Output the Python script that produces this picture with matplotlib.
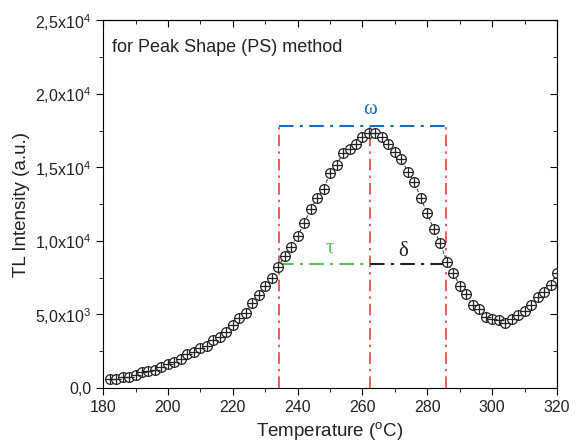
import matplotlib.pyplot as plt
from matplotlib.ticker import MultipleLocator

plt.rcParams['font.family'] = ['Liberation Sans', 'DejaVu Sans']
plt.rcParams['mathtext.fontset'] = 'custom'
plt.rcParams['mathtext.rm'] = 'Liberation Sans'

# Datos de la curva TL
temperature = list(range(182, 322, 2))
intensity = [610, 640, 725, 770, 883, 1064, 1177, 1223, 1449, 1608,
             1789, 1947, 2287, 2468, 2740, 2876, 3261, 3442, 3827, 4280,
             4733, 5120, 5750, 6300, 6900, 7450, 8240, 8970, 9560, 10350,
             11190, 12140, 12890, 13520, 14630, 15150, 15960, 16210, 16580, 17030,
             17350, 17300, 17070, 16580, 16050, 15530, 14700, 14020, 12890, 11870,
             10780, 9830, 8580, 7830, 6950, 6360, 5620, 5340, 4840, 4660,
             4620, 4440, 4660, 4930, 5230, 5620, 6160, 6520, 7020, 7790]

# Parametros del metodo PS
T1, Tm, T2 = 234.4, 262.2, 285.7
I_max = 17800
I_half = 8450

yticks = [0, 5000, 10000, 15000, 20000, 25000]
ytick_labels = ['0,0', r'5,0x10$^3$', r'1,0x10$^4$', r'1,5x10$^4$',
                r'2,0x10$^4$', r'2,5x10$^4$']

fig = plt.figure(figsize=(5.76, 4.48), dpi=100)
ax = fig.add_axes([0.179, 0.134, 0.788, 0.821])

red = '#e8403c'
blue = '#1a6cc0'
green = '#5bbf5b'
dashdot = (0, (7, 3, 1.5, 3))

# lineas del metodo
for t in (T1, Tm, T2):
    ax.plot([t, t], [0, I_max], color=red, linestyle=dashdot, linewidth=1.2, zorder=1)
ax.plot([T1, T2], [I_max, I_max], color=blue, linestyle=dashdot, linewidth=1.5, zorder=1)
ax.plot([T1, Tm], [I_half, I_half], color=green, linestyle=dashdot, linewidth=1.5, zorder=1)
ax.plot([Tm, T2], [I_half, I_half], color='#222222', linestyle=dashdot, linewidth=1.5, zorder=1)

# curva
ax.plot(temperature, intensity, color='#333333', linestyle='--', linewidth=0.7, zorder=2)
ax.plot(temperature, intensity, linestyle='none', marker='o', markersize=7,
        markerfacecolor='white', markeredgecolor='#222222', markeredgewidth=0.9, zorder=3)
ax.plot(temperature, intensity, linestyle='none', marker='+', markersize=7,
        markeredgecolor='#222222', markeredgewidth=0.9, zorder=4)

greek = ['Liberation Serif', 'DejaVu Serif']
ax.text(Tm, 18300, 'ω', color=blue, fontsize=15, ha='center', va='bottom', family=greek)
ax.text(250, 8800, 'τ', color=green, fontsize=15, ha='center', va='bottom', family=greek)
ax.text(272.5, 8650, 'δ', color='#222222', fontsize=15, ha='center', va='bottom', family=greek)
ax.text(0.02, 0.925, 'for Peak Shape (PS) method', transform=ax.transAxes,
        fontsize=13, ha='left', va='center', color='#222222')

ax.set_xlim(180, 320)
ax.set_ylim(0, 25000)
ax.set_xticks(range(180, 321, 20))
ax.xaxis.set_minor_locator(MultipleLocator(10))
ax.set_yticks(yticks)
ax.set_yticklabels(ytick_labels)
ax.yaxis.set_minor_locator(MultipleLocator(2500))

ax.tick_params(which='both', direction='out', top=False, right=False,
               labelsize=11.5, labelcolor='#222222')
ax.tick_params(which='major', length=5)
ax.tick_params(which='minor', length=3)
# ticks espejo arriba y a la derecha
ax2 = ax.secondary_xaxis('top')
ax2.set_xticks(range(180, 321, 20))
ax2.xaxis.set_minor_locator(MultipleLocator(10))
ax2.tick_params(which='both', direction='in', labeltop=False)
ax2.tick_params(which='major', length=5)
ax2.tick_params(which='minor', length=3)
ay2 = ax.secondary_yaxis('right')
ay2.set_yticks(yticks)
ay2.yaxis.set_minor_locator(MultipleLocator(2500))
ay2.tick_params(which='both', direction='in', labelright=False)
ay2.tick_params(which='major', length=5)
ay2.tick_params(which='minor', length=3)

ax.set_xlabel(r'Temperature ($^{\rm o}$C)', fontsize=13.5, color='#222222')
ax.set_ylabel('TL Intensity (a.u.)', fontsize=13.5, color='#222222')

plt.savefig('out.png', dpi=100)
